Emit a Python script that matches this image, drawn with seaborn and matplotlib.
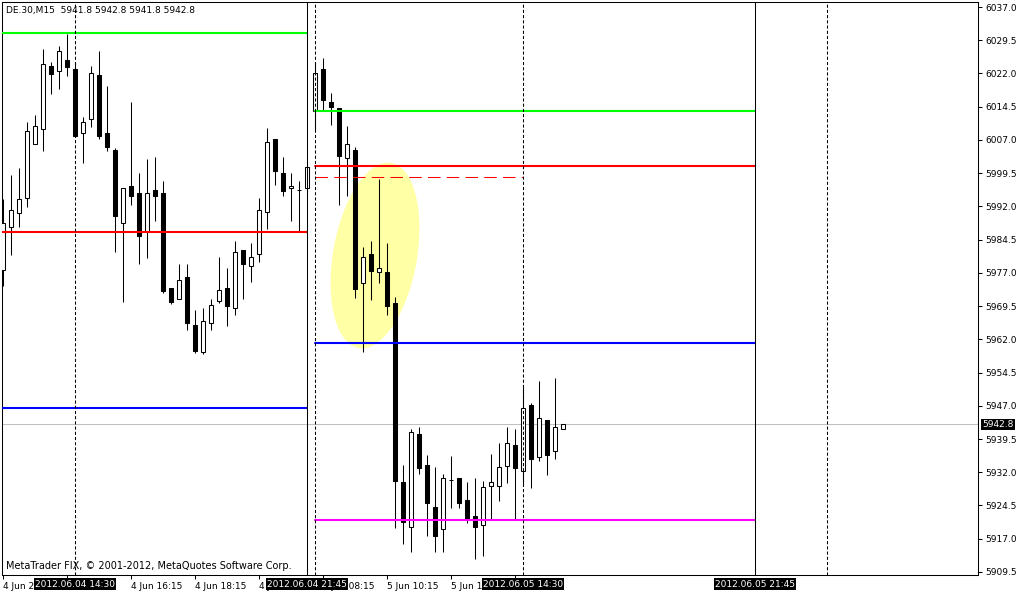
import numpy as np
import pandas as pd
import matplotlib.pyplot as plt
from matplotlib.patches import Ellipse
from matplotlib.transforms import ScaledTranslation
import seaborn as sns

# dados das velas (DE.30, M15)
opens = [5977.6, 5987.4, 5990.6, 5994.0, 6006.0, 6009.5, 6023.7, 6022.5, 6025.0, 6022.9,
         6008.5, 6011.7, 6021.6, 6008.5, 6004.7, 5988.2, 5996.6, 5995.0, 5986.3, 5995.7,
         5995.0, 5973.5, 5971.0, 5976.0, 5965.2, 5959.1, 5965.6, 5970.6, 5973.5, 5969.0,
         5982.2, 5978.5, 5981.2, 5990.7, 6007.2, 5999.5, 5996.1, 5995.6, 5996.1, 6013.5,
         6023.0, 6015.6, 6014.1, 6003.0, 6004.7, 5974.6, 5981.3, 5977.1, 5977.2, 5970.1,
         5929.7, 5919.6, 5940.6, 5933.6, 5924.1, 5919.1, 5930.2, 5930.8, 5925.7, 5922.1,
         5920.2, 5929.0, 5929.0, 5933.5, 5938.1, 5932.3, 5947.1, 5935.5, 5943.8, 5936.8,
         5941.8]
highs = [5993.6, 5999.1, 6000.7, 6011.0, 6012.6, 6027.5, 6024.6, 6028.2, 6030.9, 6024.5,
         6012.1, 6023.7, 6027.0, 6019.2, 6005.1, 5996.1, 6015.6, 5999.5, 6002.6, 6003.1,
         5997.7, 5973.5, 5979.1, 5979.1, 5968.6, 5969.0, 5971.0, 5980.5, 5978.1, 5984.1,
         5982.2, 5983.7, 5994.0, 6009.6, 6007.2, 6003.1, 5999.5, 5997.7, 6001.5, 6024.6,
         6025.4, 6017.5, 6014.1, 6010.1, 6005.5, 5982.9, 5984.2, 5998.1, 5983.8, 5971.5,
         5933.6, 5941.8, 5942.2, 5936.0, 5933.1, 5931.6, 5935.6, 5930.8, 5929.8, 5930.8,
         5930.0, 5936.1, 5938.6, 5942.1, 5941.7, 5951.7, 5947.7, 5952.6, 5943.8, 5953.3,
         5942.8]
lows = [5974.0, 5981.0, 5987.4, 5991.9, 6006.0, 6004.6, 6017.4, 6018.6, 6021.5, 6007.9,
        6001.9, 6010.0, 6007.1, 6004.6, 5981.6, 5970.5, 5992.3, 5979.0, 5980.4, 5988.6,
        5972.5, 5970.0, 5971.0, 5964.1, 5959.0, 5958.7, 5964.0, 5970.1, 5965.1, 5967.6,
        5971.0, 5975.0, 5979.5, 5987.0, 5996.8, 5994.4, 5988.6, 5986.3, 5995.5, 6009.2,
        6013.8, 6010.4, 5992.3, 5994.3, 5971.4, 5959.2, 5970.9, 5974.6, 5967.5, 5919.5,
        5915.7, 5914.1, 5931.5, 5917.5, 5914.1, 5914.1, 5924.0, 5924.0, 5920.5, 5912.4,
        5913.2, 5921.4, 5925.6, 5929.6, 5921.4, 5928.9, 5928.5, 5934.6, 5931.4, 5935.1,
        5941.8]
closes = [5988.2, 5991.1, 5993.6, 6009.0, 6010.1, 6024.1, 6021.9, 6027.0, 6023.5, 6007.9,
          6011.0, 6022.0, 6008.0, 6005.5, 5989.9, 5996.1, 5994.4, 5985.4, 5995.0, 5994.4,
          5973.0, 5970.5, 5975.5, 5965.6, 5959.4, 5966.1, 5969.7, 5973.1, 5969.6, 5981.6,
          5979.1, 5980.5, 5991.1, 6006.5, 6000.1, 5995.5, 5996.6, 5995.6, 6001.0, 6022.0,
          6015.9, 6014.5, 6003.4, 6006.0, 5973.4, 5980.5, 5977.5, 5978.0, 5969.6, 5930.1,
          5920.7, 5941.0, 5933.0, 5925.1, 5917.5, 5930.6, 5930.2, 5925.1, 5921.4, 5919.6,
          5928.7, 5929.7, 5933.1, 5938.5, 5933.0, 5946.6, 5935.1, 5944.2, 5936.0, 5942.1,
          5942.8]

# eixo de tempo (rotulos em 8 e 64 ficam escondidos pelas marcas pretas)
tick_bars = [0, 8, 16, 24, 32, 40, 48, 56, 64]
tick_labels = ['4 Jun 2012', '', '4 Jun 16:15', '4 Jun 18:15', '4 Jun 20:15',
               '5 Jun 08:15', '5 Jun 10:15', '5 Jun 12:15', '']
marker_bars = [9, 38, 65, 94]
marker_labels = ['2012.06.04 14:30', '2012.06.04 21:45', '2012.06.05 14:30', '2012.06.05 21:45']
solid_vlines = [38, 94]
dashed_vlines = [9, 39, 65, 103]

# niveis (linhas de tendencia horizontais)
level_names = ['g1', 'r1', 'b1', 'g2', 'r2', 'b2', 'm2']
level_prices = [6031.1, 5986.3, 5946.5, 6013.6, 6001.2, 5961.2, 5921.2]
level_start = [-1, -1, -1, 39, 39, 39, 39]
level_end = [38, 38, 38, 94, 94, 94, 94]
level_colors = ['#00ff00', '#ff0000', '#0000ff', '#00ff00', '#ff0000', '#0000ff', '#ff00ff']
dash_level = 5998.7
dash_start, dash_end = 39, 65
last_price = 5942.8

# elipse amarela
ell_bar, ell_price = 46.5, 5980.9

sns.set_theme(style='white')
plt.rcParams['font.family'] = ['DejaVu Sans']
fs = 6.5

fig = plt.figure(figsize=(10.18, 5.92), dpi=100)
ax = fig.add_axes([2 / 1018, 17 / 592, 976 / 1018, 573 / 592])
ax.set_facecolor('white')

ax.set_xlim(-0.125, 121.875)
ax.set_ylim(5908.81, 6038.13)

bars = np.arange(len(opens))
o = np.array(opens)
c = np.array(closes)

# elipse
ell = Ellipse((0, 0), width=0.84, height=1.88, angle=-10, facecolor='#ffffa6',
              edgecolor='none', zorder=0.5,
              transform=fig.dpi_scale_trans + ScaledTranslation(ell_bar, ell_price, ax.transData))
ax.add_patch(ell)

ax.axhline(last_price, color='#c0c0c0', lw=0.75, zorder=0.8)

# velas
ax.vlines(bars, lows, highs, color='black', lw=0.75, zorder=2)
cores = np.where(c >= o, 'white', 'black')
ax.bar(bars, np.abs(c - o), bottom=np.minimum(o, c), width=0.6, color=cores,
       edgecolor='black', linewidth=0.75, zorder=3)

# niveis
rows = []
for n, p, s, e in zip(level_names, level_prices, level_start, level_end):
    rows.append({'x': s, 'price': p, 'level': n})
    rows.append({'x': e, 'price': p, 'level': n})
df_levels = pd.DataFrame(rows)
sns.lineplot(data=df_levels, x='x', y='price', hue='level', units='level', estimator=None,
             palette=dict(zip(level_names, level_colors)), sort=False, legend=False,
             linewidth=1.5, ax=ax, zorder=4)
ax.hlines(dash_level, dash_start, dash_end, color='#ff0000', lw=0.75,
          linestyles=(0, (12, 6)), zorder=4)

for b in solid_vlines:
    ax.axvline(b, color='black', lw=0.75, zorder=4)
for b in dashed_vlines:
    ax.axvline(b, color='black', lw=0.75, linestyle=(0, (3, 2)), zorder=4)

ax.set_xlabel('')
ax.set_ylabel('')

# eixo y a direita
yt = np.arange(5909.5, 6037.1, 7.5)
ax.yaxis.tick_right()
ax.set_yticks(yt)
ax.set_yticklabels([f'{v:.1f}' for v in yt])
ax.set_xticks(tick_bars)
ax.set_xticklabels(tick_labels)
for lbl in ax.get_xticklabels():
    lbl.set_horizontalalignment('left')
ax.tick_params(axis='both', length=3, width=0.75, color='black', labelsize=fs,
               labelcolor='black', pad=1.5)
ax.tick_params(axis='x', bottom=True, pad=2)
ax.tick_params(axis='y', right=True, left=False, pad=2.5)
ax.grid(False)

for sp in ax.spines.values():
    sp.set_visible(True)
    sp.set_color('black')
    sp.set_linewidth(0.75)

box = dict(boxstyle='square,pad=0.15', fc='black', ec='none')
for b, t in zip(marker_bars, marker_labels):
    ax.annotate(t, xy=(b, 0), xycoords=('data', 'axes fraction'), xytext=(0, -6.6),
                textcoords='offset points', ha='center', va='center', color='white',
                fontsize=fs, bbox=box, zorder=10, annotation_clip=False)

ax.annotate(f'{last_price:.1f}', xy=(1, last_price), xycoords=('axes fraction', 'data'),
            xytext=(3.2, 0), textcoords='offset points', ha='left', va='center',
            color='white', fontsize=fs, bbox=box, zorder=10, annotation_clip=False)

ax.text(4 / 976, 1 - 8 / 573, 'DE.30,M15  5941.8 5942.8 5941.8 5942.8', transform=ax.transAxes,
        fontsize=fs, color='black', ha='left', va='center', zorder=10)
ax.text(4 / 976, 9 / 573, 'MetaTrader FIX, © 2001-2012, MetaQuotes Software Corp.',
        transform=ax.transAxes, fontsize=fs + 0.5, color='black', ha='left', va='center',
        zorder=10)

fig.savefig('out.png', dpi=100, facecolor='white')
